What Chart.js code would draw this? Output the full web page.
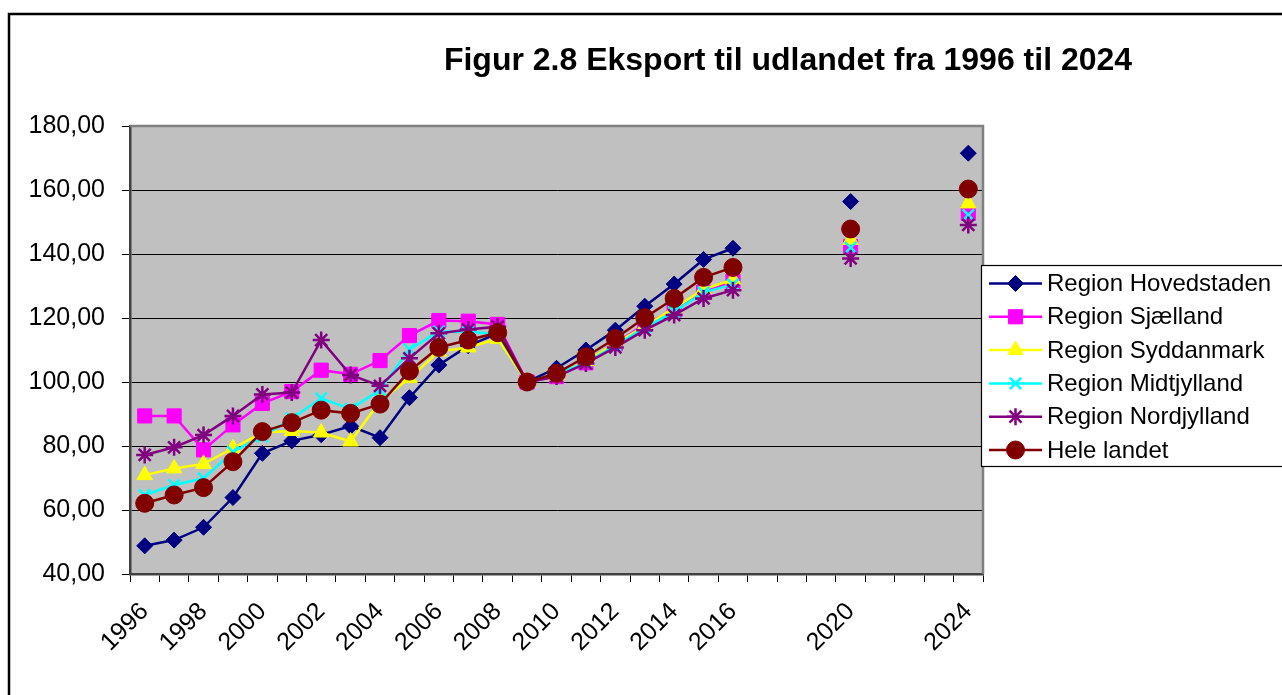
<!DOCTYPE html>
<html>
<head>
<meta charset="utf-8">
<script src="https://cdn.jsdelivr.net/npm/chart.js@4.4.1/dist/chart.umd.min.js"></script>
<style>
  html, body { margin: 0; padding: 0; background: #fff; }
  canvas { display: block; }
</style>
</head>
<body>
<canvas id="eksportChart" width="1282" height="695"></canvas>
<script>
// categories: every year, the Excel sheet has blanks between 2016, 2020 and 2024
const years = ['1996', '1997', '1998', '1999', '2000', '2001', '2002', '2003', '2004', '2005',
    '2006', '2007', '2008', '2009', '2010', '2011', '2012', '2013', '2014', '2015',
    '2016', '2017', '2018', '2019', '2020', '2021', '2022', '2023', '2024'];
const shownTickLabels = ['1996', '1998', '2000', '2002', '2004', '2006', '2008', '2010',
    '2012', '2014', '2016', '2020', '2024'];
const yTicks = [40, 60, 80, 100, 120, 140, 160, 180];

const hovedstaden = [48.8, 50.6, 54.6, 63.9, 77.7, 81.6, 83.5, 86.2, 82.6, 95.1,
    105.3, 111.3, 115.2, 100.0, 104.3, 110.0, 116.2, 123.7, 130.6, 138.3,
    141.8, null, null, null, 156.4, null, null, null, 171.5];
const sjaelland = [89.4, 89.4, 78.8, 86.6, 93.3, 97.0, 103.7, 102.4, 106.7, 114.5,
    119.2, 119.0, 118.0, 100.0, 101.7, 106.0, 112.0, 118.0, 122.5, 128.0,
    131.5, null, null, null, 142.3, null, null, null, 152.7];
const syddanmark = [70.9, 73.0, 74.4, 79.3, 84.2, 84.7, 84.2, 81.4, 94.0, 101.2,
    109.5, 110.8, 113.5, 100.0, 102.0, 106.5, 112.0, 117.5, 123.0, 129.0,
    132.0, null, null, null, 144.4, null, null, null, 155.8];
const midtjylland = [64.7, 67.8, 69.9, 78.2, 82.9, 88.6, 94.9, 91.6, 97.5, 110.2,
    115.8, 115.7, 115.0, 100.0, 102.5, 106.0, 111.5, 117.0, 122.0, 128.0,
    130.5, null, null, null, 142.0, null, null, null, 152.2];
const nordjylland = [77.2, 79.6, 83.4, 89.4, 96.1, 96.7, 113.1, 102.2, 98.8, 107.4,
    115.2, 116.4, 117.3, 100.0, 101.7, 105.8, 110.8, 116.2, 120.9, 126.1,
    128.7, null, null, null, 138.6, null, null, null, 149.1];
const heleLandet = [62.1, 64.7, 67.0, 75.1, 84.5, 87.3, 91.2, 90.2, 93.1, 103.4,
    110.8, 113.1, 115.4, 100.0, 102.7, 107.9, 113.6, 120.1, 126.1, 132.7,
    135.8, null, null, null, 147.8, null, null, null, 160.3];

const seriesNames = ['Region Hovedstaden', 'Region Sjælland', 'Region Syddanmark',
    'Region Midtjylland', 'Region Nordjylland', 'Hele landet'];
const seriesValues = [hovedstaden, sjaelland, syddanmark, midtjylland, nordjylland, heleLandet];
const seriesColors = ['#000080', '#FF00FF', '#FFFF00', '#00FFFF', '#800080', '#800000'];
const seriesMarkers = ['rectRot', 'rect', 'triangle', 'crossRot', 'star', 'circle'];
const markerSizes = [8, 10, 9, 8, 8.5, 9];

const FONT = '"Liberation Sans", Arial, sans-serif';
const titleText = 'Figur 2.8 Eksport til udlandet fra 1996 til 2024';

const datasets = seriesNames.map(function(name, i) {
    const open = seriesMarkers[i] === 'crossRot' || seriesMarkers[i] === 'star';
    return {
        label: name,
        data: seriesValues[i],
        borderColor: seriesColors[i],
        backgroundColor: seriesColors[i],
        borderWidth: 2.5,
        pointStyle: seriesMarkers[i],
        pointRadius: markerSizes[i],
        pointBackgroundColor: seriesColors[i],
        pointBorderColor: seriesColors[i],
        pointBorderWidth: open ? 2.5 : 1,
        spanGaps: false,
        tension: 0,
        order: seriesNames.length - 1 - i
    };
});

// frame, grey plot area, title and the boxed legend on the right
const excelLook = {
    id: 'excelLook',
    beforeDraw(chart) {
        const ctx = chart.ctx;
        const a = chart.chartArea;
        ctx.save();
        ctx.fillStyle = '#C0C0C0';
        ctx.fillRect(a.left, a.top, a.right - a.left, a.bottom - a.top);
        ctx.restore();
    },
    beforeDatasetsDraw(chart) {
        const ctx = chart.ctx;
        const a = chart.chartArea;
        ctx.save();
        ctx.strokeStyle = '#808080';
        ctx.lineWidth = 2.5;
        ctx.beginPath();
        ctx.moveTo(a.left, a.top);
        ctx.lineTo(a.right, a.top);
        ctx.lineTo(a.right, a.bottom);
        ctx.stroke();
        ctx.restore();
    },
    afterDraw(chart) {
        const ctx = chart.ctx;
        ctx.save();

        // outer frame
        ctx.strokeStyle = '#000';
        ctx.lineWidth = 2.5;
        ctx.beginPath();
        ctx.moveTo(9, chart.height);
        ctx.lineTo(9, 14);
        ctx.lineTo(chart.width, 14);
        ctx.stroke();

        // title
        ctx.fillStyle = '#000';
        ctx.font = 'bold 32px ' + FONT;
        ctx.textAlign = 'center';
        ctx.textBaseline = 'alphabetic';
        ctx.fillText(titleText, 788, 69.5);

        // legend
        const boxX = 981, boxY = 265, boxH = 201;
        ctx.fillStyle = '#fff';
        ctx.fillRect(boxX, boxY, chart.width - boxX + 5, boxH);
        ctx.strokeStyle = '#000';
        ctx.lineWidth = 1.2;
        ctx.strokeRect(boxX + 0.5, boxY + 0.5, chart.width - boxX + 5, boxH);

        ctx.font = '24px ' + FONT;
        ctx.textAlign = 'left';
        ctx.textBaseline = 'middle';
        chart.data.datasets.forEach(function(ds, i) {
            const y = 283.5 + i * 33.3;
            ctx.strokeStyle = ds.borderColor;
            ctx.lineWidth = 2.5;
            ctx.beginPath();
            ctx.moveTo(989, y);
            ctx.lineTo(1042, y);
            ctx.stroke();

            ctx.fillStyle = ds.pointBackgroundColor;
            ctx.strokeStyle = ds.pointBorderColor;
            ctx.lineWidth = ds.pointBorderWidth;
            Chart.helpers.drawPoint(ctx, {
                pointStyle: ds.pointStyle,
                radius: ds.pointRadius,
                borderWidth: ds.pointBorderWidth,
                rotation: 0
            }, 1015.5, y);

            ctx.fillStyle = '#000';
            ctx.fillText(ds.label, 1047, y + 1);
        });
        ctx.restore();
    }
};

const ctx = document.getElementById('eksportChart').getContext('2d');
new Chart(ctx, {
    type: 'line',
    data: {
        labels: years,
        datasets: datasets
    },
    options: {
        responsive: false,
        animation: false,
        layout: {
            padding: { top: 126, right: 299, bottom: 0, left: 10 }
        },
        plugins: {
            legend: { display: false },
            title: { display: false },
            tooltip: { enabled: false }
        },
        scales: {
            x: {
                offset: true,
                grid: {
                    offset: true,
                    drawOnChartArea: false,
                    drawTicks: true,
                    tickLength: 8,
                    color: '#000',
                    lineWidth: 1
                },
                border: { color: '#404040', width: 2.5 },
                ticks: {
                    autoSkip: false,
                    minRotation: 45,
                    maxRotation: 45,
                    padding: 15,
                    color: '#000',
                    font: { family: FONT, size: 25 },
                    callback: function(value) {
                        const label = this.getLabelForValue(value);
                        return shownTickLabels.includes(label) ? label : '';
                    }
                },
                afterFit: function(scale) {
                    scale.height = 121;
                }
            },
            y: {
                min: 40,
                max: 180,
                afterBuildTicks: function(scale) {
                    scale.ticks = yTicks.map(v => ({ value: v }));
                },
                grid: {
                    color: '#000',
                    lineWidth: 1,
                    tickLength: 8
                },
                border: { color: '#404040', width: 2.5 },
                ticks: {
                    padding: 17,
                    color: '#000',
                    font: { family: FONT, size: 25 },
                    callback: function(value) {
                        return value.toFixed(2).replace('.', ',');
                    }
                },
                afterFit: function(scale) {
                    scale.width = 120;
                }
            }
        }
    },
    plugins: [excelLook]
});
</script>
</body>
</html>
